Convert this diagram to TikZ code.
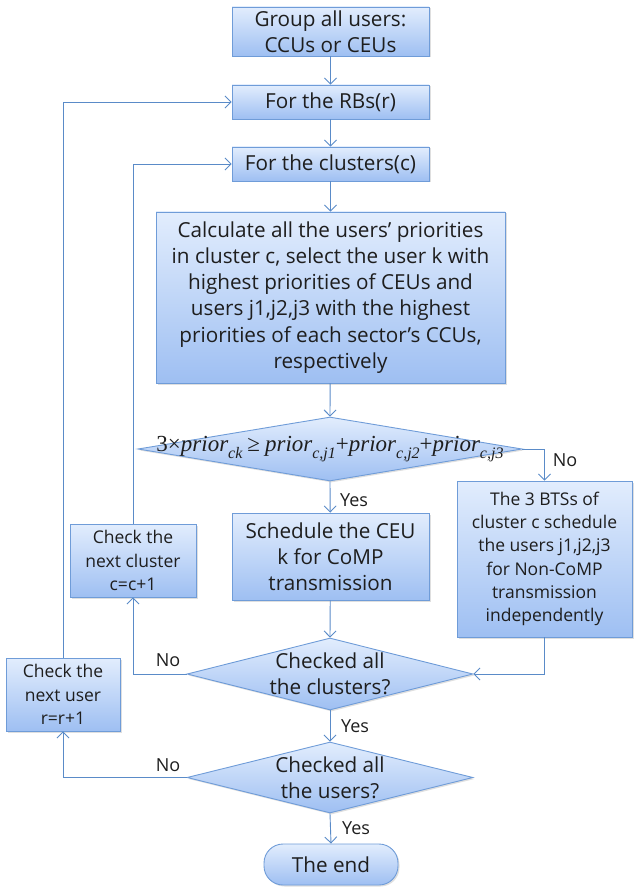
\documentclass[tikz,border=0pt]{standalone}
\usepackage{fontspec}
\setmainfont{Open Sans}
\newfontfamily\fml{Liberation Serif}
\usetikzlibrary{shapes.geometric,arrows.meta,shadows}
\definecolor{lineblue}{HTML}{5A8BC8}
\definecolor{edgeblue}{HTML}{6F9CD8}
\definecolor{topfill}{HTML}{E2EDFD}
\definecolor{botfill}{HTML}{9EBFF2}
\definecolor{ink}{HTML}{1E1E1E}
\newcommand\sbx[1]{\raisebox{-0.32em}{\fontsize{16}{16}\selectfont\itshape #1}}
\newcommand\rel[1]{{\upshape #1}}
\begin{document}
\begin{tikzpicture}[x=1pt,y=-1pt,
  shade/.style={draw=edgeblue, line width=0.9pt, top color=topfill, bottom color=botfill,
    drop shadow={opacity=0.25,shadow xshift=1.5pt,shadow yshift=-1.5pt}},
  box/.style={shade, rectangle, inner sep=0pt, align=center, text=ink,
    font=\fontsize{20.7}{26.2}\selectfont},
  smallbox/.style={box, font=\fontsize{17.5}{23.3}\selectfont},
  dia/.style={shade, diamond, inner sep=0pt},
  conn/.style={draw=lineblue, line width=0.9pt, -{Straight Barb[length=6pt,width=12pt]}},
  lab/.style={text=ink, font=\fontsize{18}{20}\selectfont, inner sep=0pt},
  dtext/.style={text=ink, align=center, font=\fontsize{20.7}{26}\selectfont}]
\useasboundingbox (0,0) rectangle (633,890);

\node[box, minimum width=197pt, minimum height=49pt] (group) at (330.5,31.5)
  {Group all users:\\CCUs or CEUs};
\node[box, minimum width=197pt, minimum height=34pt] (rbs) at (330.5,102)
  {For the RBs(r)};
\node[box, minimum width=197pt, minimum height=34pt] (clus) at (330.5,164)
  {For the clusters(c)};
\node[box, minimum width=349pt, minimum height=171pt] (calc) at (330.5,297.5)
  {Calculate all the users’ priorities\\in cluster c, select the user k with\\highest priorities of CEUs and\\users j1,j2,j3 with the highest\\priorities of each sector’s CCUs,\\respectively};

\node[dia, minimum width=384pt, minimum height=64pt,
  label={[text=ink, inner sep=0pt, font=\fml\fontsize{23}{24}\selectfont\itshape]center:%
  \rel{3×}prior\sbx{ck}\hspace{5pt}\rel{≥}\hspace{5pt}prior\sbx{c,j1}\rel{+}prior\sbx{c,j2}\rel{+}prior\sbx{c,j3}}]
  (cond) at (330,449) {};

\node[box, minimum width=197pt, minimum height=87pt] (sched) at (330.5,556.5)
  {Schedule the CEU\\k for CoMP\\transmission};
\node[smallbox, minimum width=175pt, minimum height=156pt] (bts) at (544.5,559)
  {The 3 BTSs of\\cluster c schedule\\the users j1,j2,j3\\for Non-CoMP\\transmission\\independently};
\node[smallbox, minimum width=126pt, minimum height=73pt] (nextc) at (133,560.5)
  {Check the\\next cluster\\c=c+1};
\node[smallbox, minimum width=114pt, minimum height=73pt] (nextu) at (63,694.5)
  {Check the\\next user\\r=r+1};

\node[dia, minimum width=286pt, minimum height=72pt,
  label={[dtext]center:Checked all\\the clusters?}] (allc) at (330,674) {};
\node[dia, minimum width=286pt, minimum height=71pt,
  label={[dtext]center:Checked all\\the users?}] (allu) at (330,777.5) {};

\node[box, rounded corners=19pt, minimum width=134pt, minimum height=41pt] (theend) at (331,864.5)
  {The end};

\node[lab] (yes1) at (354,500) {Yes};
\node[lab] (yes2) at (355,726) {Yes};
\node[lab] (yes3) at (356,828) {Yes};
\node[lab] (no1) at (565,460) {No};
\node[lab] (no2) at (168,660) {No};
\node[lab] (no3) at (168,765) {No};

\draw[conn] (group) -- (rbs);
\draw[conn] (rbs) -- (clus);
\draw[conn] (clus) -- (calc);
\draw[conn] (calc) -- (cond.north);
\draw[conn] (cond.south) -- (sched);
\draw[conn] (cond.east) -| (bts.north);
\draw[conn] (sched) -- (allc.north);
\draw[conn] (bts.south) |- (allc.east);
\draw[conn] (allc.west) -| (nextc.south);
\draw[conn] (nextc.north) |- (clus.west);
\draw[conn] (allc.south) -- (allu.north);
\draw[conn] (allu.west) -| (nextu.south);
\draw[conn] (nextu.north) |- (rbs.west);
\draw[conn] (allu.south) -- (theend.north);
\end{tikzpicture}
\end{document}
